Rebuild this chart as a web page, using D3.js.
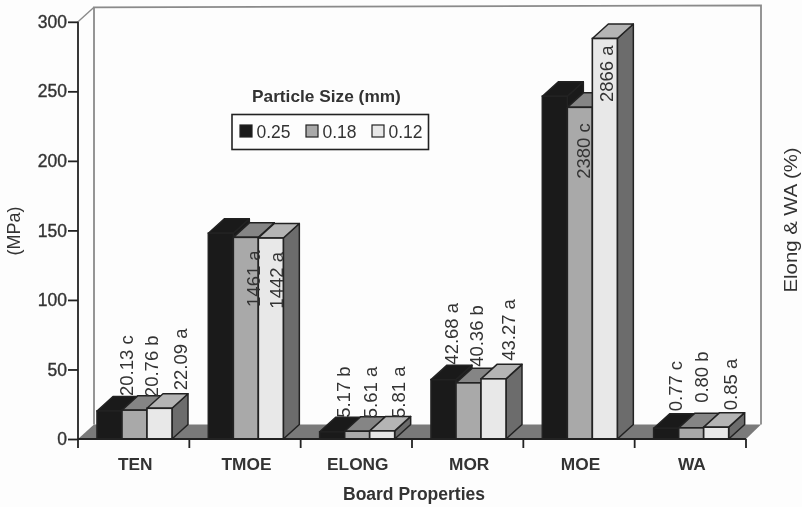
<!DOCTYPE html>
<html><head><meta charset="utf-8">
<script src="https://cdn.jsdelivr.net/npm/d3@7"></script>
<style>html,body{margin:0;padding:0;background:#fdfdfd}svg{display:block;font-family:"Liberation Sans",Arial,sans-serif;filter:blur(.4px)}</style>
</head><body><div id="c"></div>
<script>
const categories = ["TEN","TMOE","ELONG","MOR","MOE","WA"];
const seriesNames = ["0.25","0.18","0.12"];
const s025 = [20.13,148,5.17,42.68,246.5,7.7];
const s018 = [20.76,145,5.61,40.36,238.5,8.0];
const s012 = [22.09,144.5,5.81,43.27,288,8.5];
const lab025 = ["20.13 c","","5.17 b","42.68 a","","0.77 c"];
const lab018 = ["20.76 b","1461 a","5.61 a","40.36 b","2380 c","0.80 b"];
const lab012 = ["22.09 a","1442 a","5.81 a","43.27 a","2866 a","0.85 a"];
const yTicks = [0,50,100,150,200,250,300];

const W=802,H=507;
const svg=d3.select("#c").append("svg").attr("width",W).attr("height",H);
const ink="#222", text="#333";
const y=d3.scaleLinear().domain([0,300]).range([439,21.8]);
const x0=d3.scaleBand().domain(categories).range([78,746]);
const x1=d3.scaleBand().domain(seriesNames).range([19,94]);
const dx=16,dy=14.5;
const front={"0.25":"#1a1a1a","0.18":"#a9a9a9","0.12":"#e8e8e8"};
const topc={"0.25":"#1a1a1a","0.18":"#858585","0.12":"#b4b4b4"};
const side={"0.25":"#1a1a1a","0.18":"#6c6c6c","0.12":"#6c6c6c"};
const pts=a=>a.map(p=>p.join(",")).join(" ");

// per-label placement relative to its bar: [along x from bar centre, along y from bar top]
const labelNudge={
  TEN:[[23,-15],[23,-13],[27,-18]],
  TMOE:[null,[14,13],[12,14]],
  ELONG:[[18,-14],[20,-13],[23,-13]],
  MOR:[[14.5,-15],[14.5,-16],[21.5,-18]],
  MOE:[null,[10,16],[8,7]],
  WA:[[16,-17],[17,-25],[21,-17]]
};
const insideLabels=["TMOE","MOE"];

// walls and floor
const wallX=x0.range()[0]+dx, y0=y(0), xR=x0.range()[1];
svg.append("polyline").attr("points",pts([[wallX,y0-dy],[wallX,y(300)-dy],[xR+dx-1,y(300)-dy-2],[xR+dx-1,y0-dy]]))
  .attr("fill","none").attr("stroke","#8a8a8a").attr("stroke-width",1.8);
svg.append("line").attr("x1",x0.range()[0]).attr("y1",y(300)).attr("x2",wallX).attr("y2",y(300)-dy).attr("stroke","#8a8a8a").attr("stroke-width",1.4);
svg.append("polygon").attr("points",pts([[x0.range()[0],y0],[wallX,y0-dy],[xR+dx-1,y0-dy],[xR,y0]])).attr("fill","#7a7a7a");

// bars
const series=[s025,s018,s012];
const labels=[lab025,lab018,lab012];
const barW=x1.bandwidth();
categories.forEach((c,ci)=>{
  const g=svg.append("g");
  seriesNames.forEach((s,si)=>{
    const l=x0(c)+x1(s), r=l+barW, t=y(series[si][ci]), b=y0;
    g.append("polygon").attr("points",pts([[r,b],[r+dx,b-dy],[r+dx,t-dy],[r,t]])).attr("fill",side[s]).attr("stroke",ink).attr("stroke-width",1.5).attr("stroke-linejoin","round");
    g.append("polygon").attr("points",pts([[l,t],[l+dx,t-dy],[r+dx,t-dy],[r,t]])).attr("fill",topc[s]).attr("stroke",ink).attr("stroke-width",1.5).attr("stroke-linejoin","round");
    g.append("rect").attr("x",l).attr("y",t).attr("width",barW).attr("height",b-t).attr("fill",front[s]).attr("stroke",ink).attr("stroke-width",1.6);
  });
});
// value labels
categories.forEach((c,ci)=>{
  seriesNames.forEach((s,si)=>{
    const lab=labels[si][ci]; if(!lab) return;
    const inside=insideLabels.includes(c), n=labelNudge[c][si];
    const px=x0(c)+x1(s)+barW/2+n[0], py=y(series[si][ci])+n[1];
    svg.append("text").attr("transform",`translate(${px},${py}) rotate(-90)`)
      .attr("text-anchor",inside?"end":"start").attr("font-size",18.5).attr("fill",text).text(lab);
  });
});
// axes
const yAxis=d3.axisLeft(y).tickValues(yTicks).tickSize(10).tickPadding(1);
const ya=svg.append("g").attr("transform","translate(78,0)").call(yAxis);
ya.selectAll("path,line").attr("stroke",ink).attr("stroke-width",1.8);
ya.select(".domain").attr("d",`M0,${y(300)}V${y(0)}`);
ya.selectAll("text").attr("font-size",17.5).attr("fill",text).attr("stroke",text).attr("stroke-width",.35).attr("font-family","inherit");
const xa=svg.append("g").attr("transform",`translate(0,${y0})`);
xa.append("line").attr("x1",x0.range()[0]).attr("x2",xR).attr("stroke",ink).attr("stroke-width",1.8);
[...categories.map(c=>x0(c)),xR].forEach(t=>xa.append("line").attr("x1",t).attr("x2",t).attr("y2",9).attr("stroke",ink).attr("stroke-width",1.8));
categories.forEach(c=>xa.append("text").attr("x",x0(c)+x0.bandwidth()/2+1.5).attr("y",31).attr("text-anchor","middle").attr("font-size",17.3).attr("font-weight","bold").attr("fill",text).text(c));
// titles
svg.append("text").attr("x",414).attr("y",500).attr("text-anchor","middle").attr("font-size",17.5).attr("font-weight","bold").attr("fill",text).text("Board Properties");
svg.append("text").attr("transform","translate(20,231) rotate(-90)").attr("text-anchor","middle").attr("font-size",18).attr("fill",text).text("(MPa)");
svg.append("text").attr("transform","translate(797,220) rotate(-90)").attr("text-anchor","middle").attr("font-size",18).attr("textLength",145).attr("lengthAdjust","spacingAndGlyphs").attr("fill",text).text("Elong & WA (%)");
// legend
svg.append("text").attr("x",252).attr("y",102).attr("font-size",17.3).attr("font-weight","bold").attr("fill",text).text("Particle Size (mm)");
svg.append("rect").attr("x",232).attr("y",114.5).attr("width",196.5).attr("height",35).attr("fill","#fdfdfd").attr("stroke",ink).attr("stroke-width",1.6);
const legX=d3.scalePoint().domain(seriesNames).range([240,372]);
seriesNames.forEach(s=>{
  svg.append("rect").attr("x",legX(s)).attr("y",125).attr("width",12).attr("height",12).attr("fill",front[s]).attr("stroke",ink).attr("stroke-width",1.2);
  svg.append("text").attr("x",legX(s)+16.5).attr("y",138).attr("font-size",17.5).attr("fill",text).text(s);
});
</script></body></html>
